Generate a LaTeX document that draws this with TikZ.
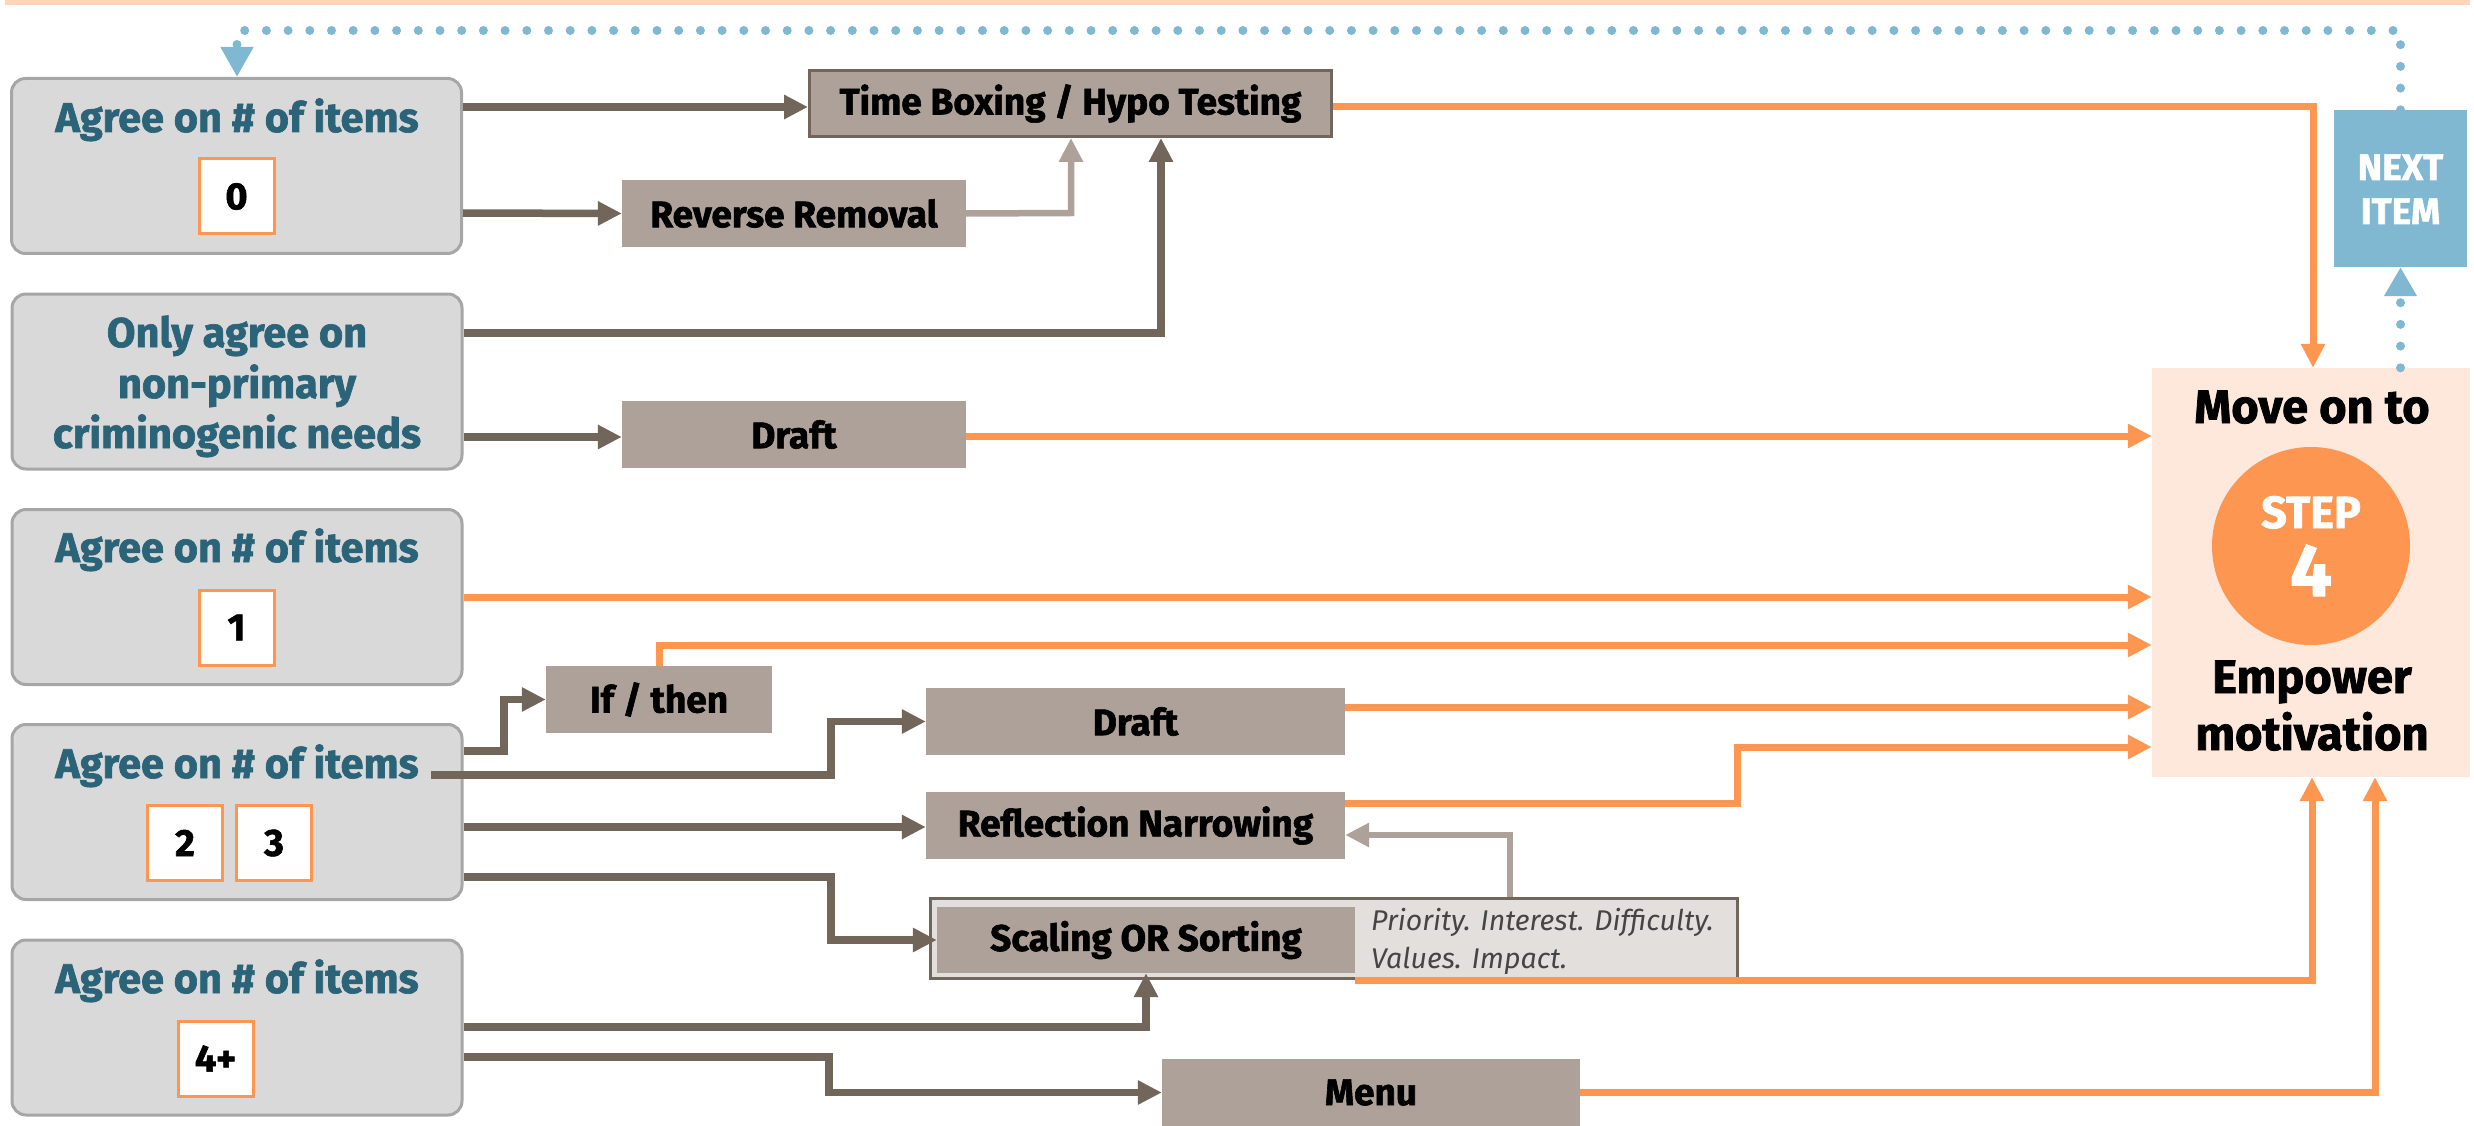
\documentclass[tikz,border=0pt]{standalone}
\usepackage{fontspec}
\setmainfont{Fira Sans}[BoldFeatures={FakeBold=1.6}]
\newfontfamily\hv{Fira Sans}[BoldFeatures={FakeBold=1.6}]
\newfontfamily\nt{Fira Sans}
\usetikzlibrary{arrows.meta}
\definecolor{lbfill}{HTML}{D9D9D9}
\definecolor{lbdraw}{HTML}{A6A6A6}
\definecolor{ttlc}{HTML}{2B6478}
\definecolor{gboxc}{HTML}{ADA199}
\definecolor{darkc}{HTML}{72655A}
\definecolor{orgc}{HTML}{FD9650}
\definecolor{bluc}{HTML}{7FB8D0}
\definecolor{peachc}{HTML}{FDE8DB}
\definecolor{barc}{HTML}{FFD4B8}
\definecolor{scfill}{HTML}{E3DFDC}
\definecolor{notec}{HTML}{454545}
\begin{document}
\begin{tikzpicture}[x=1pt,y=-1pt,
  leftbox/.style={draw=lbdraw, line width=3pt, fill=lbfill, rounded corners=14pt, minimum width=450pt, minimum height=175pt, inner sep=0pt},
  ttl/.style={anchor=base, text=ttlc, font=\hv\bfseries\fontsize{41.5}{50}\selectfont, inner sep=0pt},
  numbox/.style={draw=orgc, line width=3pt, fill=white, minimum width=75pt, minimum height=75pt, inner sep=0pt, font=\hv\bfseries\fontsize{38}{40}\selectfont},
  gbox/.style={fill=gboxc, inner sep=0pt, font=\hv\bfseries\fontsize{37}{40}\selectfont},
  darr/.style={draw=darkc, line width=7.5pt, -{Triangle[length=24pt,width=23pt]}},
  larr/.style={draw=gboxc, line width=6.5pt, -{Triangle[length=24pt,width=23pt]}},
  oarr/.style={draw=orgc, line width=7pt, -{Triangle[length=24pt,width=23pt]}},
  bdot/.style={draw=bluc, line width=9pt, line cap=round, dash pattern=on 0pt off 21.7pt},
  bigtxt/.style={anchor=base, inner sep=0pt, font=\bfseries\fontsize{47}{50}\selectfont},
  whtxt/.style={anchor=base, inner sep=0pt, text=white},
  notetxt/.style={anchor=base west, inner sep=0pt, text=notec, font=\nt\itshape\fontsize{28.5}{30}\selectfont}
]
\useasboundingbox (0,0) rectangle (2474,1126);
\fill[barc] (5,0) rectangle (2470,5);

% left boxes
\node[leftbox] (A0) at (236.5,166) {};
\node[ttl] (A0t) at (237,132) {Agree on \# of items};
\node[numbox] (A0n) at (236.5,196.5) {0};

\node[leftbox] (AO) at (237,381.5) {};
\node[ttl] (AOt1) at (237,347) {Only agree on};
\node[ttl] (AOt2) at (237,398) {non-primary};
\node[ttl] (AOt3) at (237,448) {criminogenic needs};

\node[leftbox] (A1) at (237,597) {};
\node[ttl] (A1t) at (237,562) {Agree on \# of items};
\node[numbox] (A1n) at (236.5,627.5) {1};

\node[leftbox] (A23) at (237,812) {};
\node[ttl] (A23t) at (237,778) {Agree on \# of items};
\node[numbox] (A2n) at (185,843) {2};
\node[numbox] (A3n) at (274,843) {3};

\node[leftbox] (A4) at (237,1027.5) {};
\node[ttl] (A4t) at (237,993) {Agree on \# of items};
\node[numbox] (A4n) at (215.5,1058.5) {4+};

% grey boxes
\node[gbox, draw=darkc, line width=3pt, minimum width=522pt, minimum height=66pt] (TB) at (1070.5,103.5) {Time Boxing / Hypo Testing};
\node[gbox, minimum width=344pt, minimum height=67pt] (RR) at (794,213.5) {Reverse Removal};
\node[gbox, minimum width=344pt, minimum height=67pt] (D1) at (794,434.5) {Draft};
\node[gbox, minimum width=226pt, minimum height=67pt] (IF) at (659,699.5) {If / then};
\node[gbox, minimum width=419pt, minimum height=67pt] (D2) at (1135.5,721.5) {Draft};
\node[gbox, minimum width=419pt, minimum height=67pt] (RN) at (1135.5,825.5) {Reflection Narrowing};
\node[draw=darkc, line width=3pt, fill=scfill, minimum width=807pt, minimum height=80pt, inner sep=0pt] (SCo) at (1334,938.5) {};
\node[gbox, minimum width=418pt, minimum height=66pt] (SCi) at (1146,940) {Scaling OR Sorting};
\node[notetxt] (N1) at (1371,930) {Priority. Interest. Difficulty.};
\node[notetxt] (N2) at (1371,968) {Values. Impact.};
\node[gbox, minimum width=418pt, minimum height=67pt] (MENU) at (1371,1092.5) {Menu};

% right side
\node[fill=bluc, minimum width=133pt, minimum height=157pt, inner sep=0pt] (NEXT) at (2400.5,188.5) {};
\node[whtxt, font=\hv\bfseries\fontsize{37}{40}\selectfont] (NEXT1) at (2400.5,180) {NEXT};
\node[whtxt, font=\hv\bfseries\fontsize{37}{40}\selectfont] (NEXT2) at (2400.5,224) {ITEM};

\node[fill=peachc, minimum width=318pt, minimum height=409pt, inner sep=0pt] (MOVE) at (2311,572.5) {};
\node[bigtxt] (MV1) at (2312,423) {Move on to};
\node[circle, fill=orgc, minimum size=198pt, inner sep=0pt] (C) at (2311,546) {};
\node[whtxt, font=\bfseries\fontsize{45}{45}\selectfont] (STEP) at (2311,528) {STEP};
\node[whtxt, font=\bfseries\fontsize{74}{74}\selectfont] (FOUR) at (2311,596) {4};
\node[bigtxt] (MV2) at (2312,693) {Empower};
\node[bigtxt] (MV3) at (2312,750) {motivation};

% dark connectors
\draw[darr] (A0.east |- 0,107) -- (TB.west |- 0,107);
\draw[darr] (A0.east |- 0,213) -- (RR.west);
\draw[larr] (RR.east) -- (1071,213) -- (TB.south -| 1071,0);
\draw[darr] (AO.east |- 0,333) -- (1161,333) -- (TB.south -| 1161,0);
\draw[darr] (AO.east |- 0,437) -- (D1.west |- 0,437);
\draw[darr] (A23.east |- 0,751) -- (504,751) -- (504,699.5) -- (IF.west);
\coordinate (A23s) at (431,775);
\draw[darr] (A23s) -- (831,775) -- (831,721.5) -- (D2.west);
\draw[darr] (A23.east |- 0,827) -- (RN.west |- 0,827);
\draw[darr] (A23.east |- 0,877) -- (831,877) -- (831,940) -- (SCi.west);
\draw[darr] (A4.east |- 0,1027) -- (SCi.south |- 0,1027) -- (SCi.south);
\draw[darr] (A4.east |- 0,1057) -- (829,1057) -- (829,1092.5) -- (MENU.west);
\draw[larr] (SCo.north -| 1510,0) -- (1510,835) -- (RN.east |- 0,835);

% orange connectors
\draw[oarr] (TB.east |- 0,107) -- (2313,107) -- (MOVE.north -| 2313,0);
\draw[oarr] (D1.east |- 0,436) -- (MOVE.west |- 0,436);
\draw[oarr] (A1.east |- 0,597) -- (MOVE.west |- 0,597);
\draw[oarr] (IF.north) -- (IF.north |- 0,645) -- (MOVE.west |- 0,645);
\draw[oarr] (D2.east |- 0,707) -- (MOVE.west |- 0,707);
\draw[oarr] (RN.east |- 0,803) -- (1737,803) -- (1737,747) -- (MOVE.west |- 0,747);
\draw[oarr] (SCi.east |- 0,980) -- (2312,980) -- (MOVE.south -| 2312,0);
\draw[oarr] (MENU.east) -- (2375,1092.5) -- (MOVE.south -| 2375,0);

% blue dotted loop
\draw[bdot, -{Triangle[length=29pt,width=31pt]}] (MOVE.north -| NEXT.south) -- (NEXT.south);
\draw[bdot, -{Triangle[length=30pt,width=31pt]}] (NEXT.north) -- (NEXT.north |- 0,30.5) -- (237,30.5) -- (A0.north -| 237,0);
\end{tikzpicture}
\end{document}
